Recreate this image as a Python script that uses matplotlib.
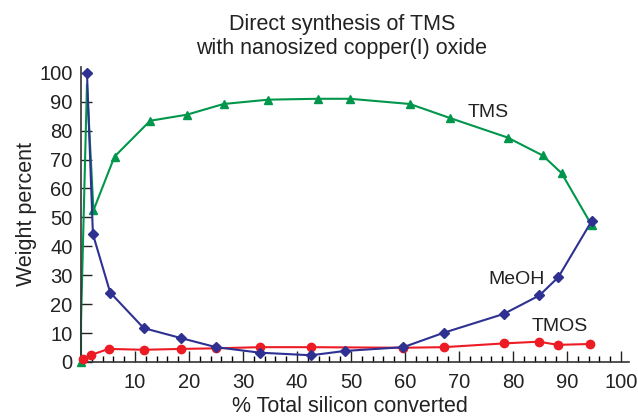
import matplotlib.pyplot as plt
from matplotlib.ticker import MultipleLocator

plt.rcParams['font.family'] = ['Liberation Sans', 'DejaVu Sans']

# % total silicon converted / weight percent
tms_x = [0, 0, 1.1, 2.3, 6.2, 12.8, 19.6, 26.4, 34.7, 43.8, 49.8, 60.9, 68.4, 79.0, 85.5, 89.0, 94.6]
tms_y = [0, 14, 96, 52.4, 71.0, 83.4, 85.5, 89.2, 90.7, 91.0, 91.0, 89.2, 84.3, 77.6, 71.4, 65.3, 47.2]

meoh_x = [1.1, 2.2, 5.4, 11.6, 18.6, 25.0, 33.1, 42.6, 48.9, 59.7, 67.2, 78.3, 84.9, 88.4, 94.6]
meoh_y = [100, 44.2, 24.0, 11.7, 8.2, 5.1, 3.2, 2.3, 3.8, 5.1, 10.1, 16.6, 23.0, 29.3, 48.8]

tmos_x = [0.3, 1.85, 5.1, 11.6, 18.6, 25.0, 33.1, 42.6, 59.7, 67.2, 78.3, 84.8, 88.3, 94.3]
tmos_y = [1.0, 2.4, 4.5, 4.2, 4.5, 4.7, 5.1, 5.1, 4.9, 5.1, 6.4, 7.0, 5.9, 6.2]

green = '#00964b'
blue = '#2e3192'
red = '#ed1c24'
ink = '#222222'

fig = plt.figure(figsize=(6.38, 4.16), dpi=100)
ax = fig.add_axes([0.127, 0.13, 0.859, 0.709])

ax.plot(tmos_x, tmos_y, color=red, lw=1.5, marker='o', ms=6, clip_on=False, zorder=3)
ax.plot(meoh_x, meoh_y, color=blue, lw=1.5, marker='D', ms=5, clip_on=False, zorder=4)
ax.plot(tms_x, tms_y, color=green, lw=1.5, marker='^', ms=6, clip_on=False, zorder=2,
        markevery=[0] + list(range(3, len(tms_x))))

ax.text(75.5, 86.4, 'TMS', fontsize=14, color=ink, ha='center', va='center')
ax.text(80.6, 28.4, 'MeOH', fontsize=14, color=ink, ha='center', va='center')
ax.text(88.6, 12.2, 'TMOS', fontsize=14, color=ink, ha='center', va='center')

ax.set_xlim(0, 101.5)
ax.set_ylim(0, 102)
ax.xaxis.set_minor_locator(MultipleLocator(2))
ax.set_xticks(range(10, 101, 10))
ax.set_yticks(range(0, 101, 10))
ax.tick_params(axis='both', which='major', direction='in', length=8, width=1, labelsize=14.5, colors=ink)
ax.tick_params(axis='x', which='minor', direction='in', length=4, width=1)
ax.tick_params(axis='x', pad=8)
ax.tick_params(axis='y', pad=6)

for s in ['top', 'right']:
    ax.spines[s].set_visible(False)
for s in ['left', 'bottom']:
    ax.spines[s].set_color('#333333')
    ax.spines[s].set_linewidth(1.2)

ax.set_xlabel('% Total silicon converted', fontsize=15.5, color=ink, labelpad=3, x=0.49)
ax.set_ylabel('Weight percent', fontsize=15.5, color=ink, labelpad=2)
ax.set_title('Direct synthesis of TMS\nwith nanosized copper(I) oxide', fontsize=15.5,
             color=ink, pad=9, linespacing=1.2, x=0.476)

fig.savefig('out.png', dpi=100)
